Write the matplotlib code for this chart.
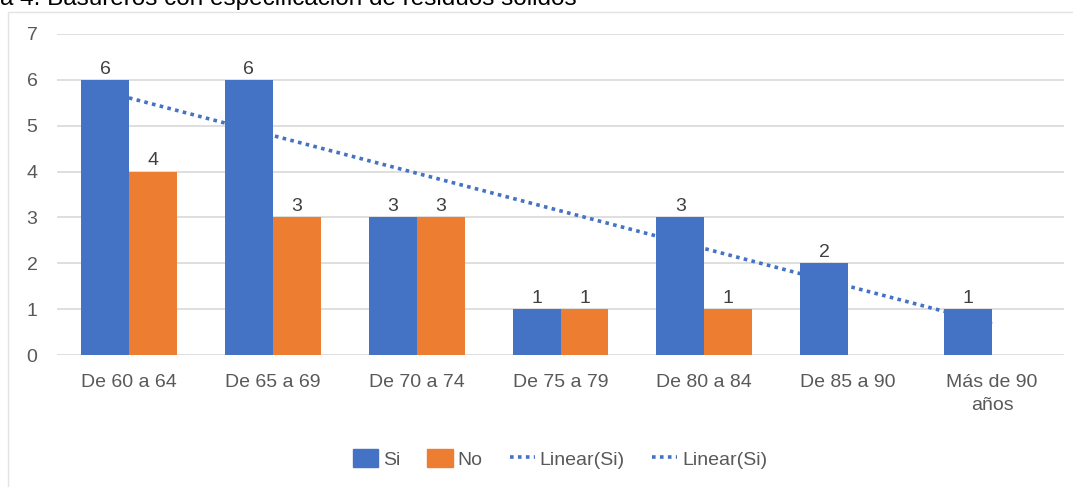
import numpy as np
import matplotlib
matplotlib.use("Agg")
import matplotlib.pyplot as plt
from matplotlib.patches import Patch, Rectangle
from matplotlib.lines import Line2D

plt.rcParams['font.family'] = ['Liberation Sans', 'DejaVu Sans']

categories = ["De 60 a 64", "De 65 a 69", "De 70 a 74", "De 75 a 79",
              "De 80 a 84", "De 85 a 90", "Más de 90\naños"]
si_values = [6, 6, 3, 1, 3, 2, 1]
no_values = [4, 3, 3, 1, 1, 0, 0]
title_text = "a 4. Basureros con especificación de residuos sólidos"

BLUE = "#4472C4"
ORANGE = "#ED7D31"
TXT = "#595959"
GRID = "#d9d9d9"

fig = plt.figure(figsize=(10.73, 4.87), dpi=100)
fig.patch.set_facecolor("white")

# outer frame
fig.add_artist(Rectangle((8/1073, -0.01), 1.02, 1 - 12/487 + 0.01,
                         transform=fig.transFigure, fill=False,
                         edgecolor="#e3e3e3", linewidth=1.0))

fig.text(0.0, 1 - 5/487, title_text, ha="left", va="baseline",
         fontsize=17.5, color="#000000")

ax = fig.add_axes([57/1073, 1 - 355/487, (1064 - 57)/1073, (355 - 34)/487])
x = np.arange(len(categories))
w = 1/3

bars_si = ax.bar(x - w/2, si_values, width=w, color=BLUE, zorder=3)
bars_no = ax.bar(x + w/2, no_values, width=w, color=ORANGE, zorder=3)

for rect, v in zip(bars_si, si_values):
    if v:
        ax.text(rect.get_x() + rect.get_width()/2, v + 0.05, str(v),
                ha="center", va="bottom", fontsize=14, color="#404040", zorder=4)
for rect, v in zip(bars_no, no_values):
    if v:
        ax.text(rect.get_x() + rect.get_width()/2, v + 0.05, str(v),
                ha="center", va="bottom", fontsize=14, color="#404040", zorder=4)

# linear trend of Si
coef = np.polyfit(x, si_values, 1)
xt = np.array([x[0], x[-1]], dtype=float)
ax.plot(xt, np.polyval(coef, xt), linestyle=(0, (1, 1.2)), color=BLUE,
        linewidth=2.6, zorder=2)

ax.set_xlim(-0.5, len(categories) - 0.5)
ax.set_ylim(0, 7)
ax.set_yticks(range(0, 8))
ax.set_xticks(x)
ax.set_xticklabels(categories, fontsize=14, color=TXT, linespacing=1.45)
ax.tick_params(axis="y", labelsize=14, labelcolor=TXT, length=0, pad=14)
ax.tick_params(axis="x", length=0, pad=14)
ax.grid(axis="y", color=GRID, linewidth=1.2, zorder=0)
ax.set_axisbelow(True)
for s in ax.spines.values():
    s.set_visible(False)

handles = [Patch(facecolor=BLUE, edgecolor=BLUE),
           Patch(facecolor=ORANGE, edgecolor=ORANGE),
           Line2D([], [], color=BLUE, linestyle=(0, (1, 1.2)), linewidth=2.6),
           Line2D([], [], color=BLUE, linestyle=(0, (1, 1.2)), linewidth=2.6)]
labels = ["Si", "No", "Linear(Si)", "Linear(Si)"]
fig.legend(handles, labels, loc="center", bbox_to_anchor=(560/1073, 1 - 459/487),
           ncol=4, frameon=False, fontsize=14, labelcolor=TXT,
           handlelength=1.3, handleheight=1.0, handletextpad=0.25,
           columnspacing=1.4)

fig.savefig("out.png", dpi=100, facecolor="white")
